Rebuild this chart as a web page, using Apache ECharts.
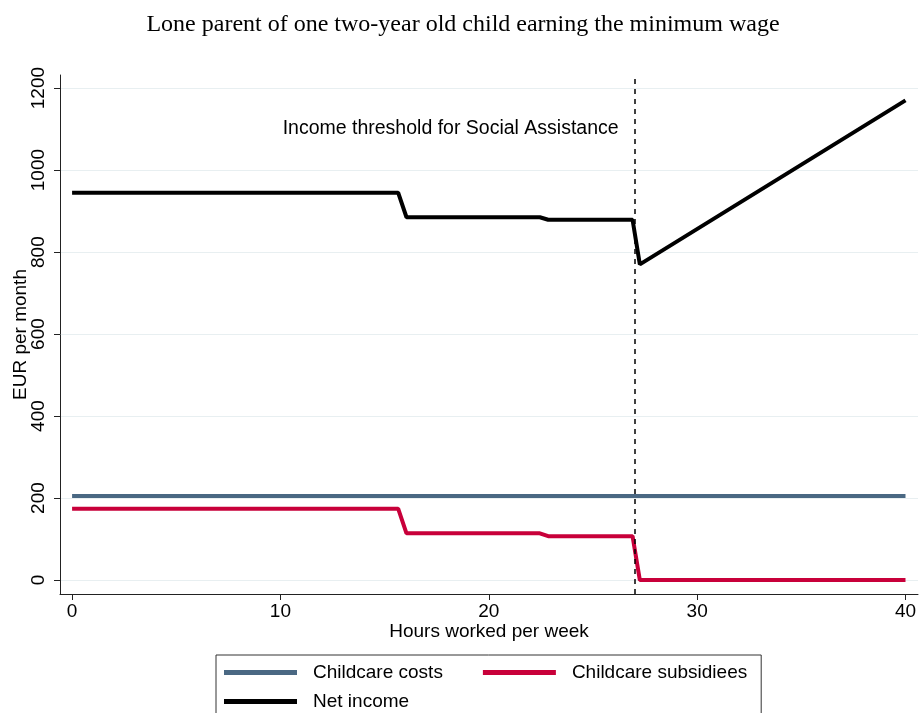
<!DOCTYPE html>
<html>
<head>
<meta charset="utf-8">
<script src="https://cdn.jsdelivr.net/npm/echarts@6/dist/echarts.min.js"></script>
<style>html,body{margin:0;padding:0;background:#fff;}#c{width:919px;height:713px;}</style>
</head>
<body>
<div id="c"></div>
<script>
var titleText = 'Lone parent of one two-year old child earning the minimum wage';
var xTicks = [0, 10, 20, 30, 40];
var yTicks = [0, 200, 400, 600, 800, 1000, 1200];
var hoursCost = [0, 40];
var childcareCosts = [205, 205];
var hoursSteps = [0, 15.65, 16.05, 22.45, 22.85, 26.9, 27.25, 40];
var childcareSubsidies = [174, 174, 114, 114, 107, 107, 0, 0];
var netIncome = [945, 945, 885, 885, 879, 879, 770, 1170];
var thresholdHours = 27;
var thresholdLabel = 'Income threshold for Social Assistance';
var labelY = 1100;

function pairs(xs, ys) { return xs.map(function (x, i) { return [x, ys[i]]; }); }

var chart = echarts.init(document.getElementById('c'));
var sans = '"Liberation Sans", Arial, sans-serif';
chart.setOption({
  animation: false,
  backgroundColor: '#fff',
  title: {
    text: titleText, left: 458, top: 8, textAlign: 'center',
    textStyle: { fontFamily: '"Liberation Serif", "Times New Roman", serif', fontSize: 24, fontWeight: 'normal', color: '#000' }
  },
  grid: { left: 60, top: 75, right: 1, bottom: 119, containLabel: false, outerBoundsMode: 'none' },
  xAxis: {
    type: 'value', min: -0.58, max: 40.6,
    name: 'Hours worked per week', nameLocation: 'middle', nameGap: 28, nameMoveOverlap: false,
    nameTextStyle: { fontFamily: sans, fontSize: 19, color: '#000', verticalAlign: 'top' },
    axisLine: { show: true, onZero: false, lineStyle: { color: '#222', width: 1 } },
    axisTick: { show: true, length: 6, lineStyle: { color: '#222' }, customValues: xTicks },
    axisLabel: { customValues: xTicks, fontFamily: sans, fontSize: 19, color: '#000', margin: 8 },
    splitLine: { show: false }
  },
  yAxis: {
    type: 'value', min: -34, max: 1232,
    name: 'EUR per month', nameLocation: 'middle', nameGap: 30, nameRotate: 90, nameMoveOverlap: false,
    nameTextStyle: { fontFamily: sans, fontSize: 19, color: '#000' },
    axisLine: { show: true, onZero: false, lineStyle: { color: '#222', width: 1 } },
    axisTick: { show: true, length: 6, lineStyle: { color: '#222' }, customValues: yTicks },
    axisLabel: { customValues: yTicks, rotate: 90, fontFamily: sans, fontSize: 19, color: '#000', margin: 12,
      formatter: function (v) { return String(v); } },
    splitLine: { show: true, lineStyle: { color: '#e8eff1', width: 1 } }
  },
  legend: {
    left: 216, top: 655, width: 540,
    orient: 'horizontal',
    itemWidth: 73, itemHeight: 5, itemGap: 6,
    padding: [6, 14, 30, 8],
    borderColor: '#333', borderWidth: 1,
    icon: 'rect',
    textStyle: { fontFamily: sans, fontSize: 19, color: '#000', lineHeight: 23, padding: [0, 0, 0, 11] },
    data: [
      { name: 'Childcare costs', textStyle: { padding: [0, 34, 0, 11] } },
      { name: 'Childcare subsidiees' },
      { name: 'Net income' }
    ]
  },
  series: [
    {
      name: 'Childcare costs', type: 'line', data: pairs(hoursCost, childcareCosts),
      symbol: 'none', color: '#4a6883', lineStyle: { width: 4, color: '#4a6883' }, z: 3
    },
    {
      name: 'Childcare subsidiees', type: 'line', data: pairs(hoursSteps, childcareSubsidies),
      symbol: 'none', color: '#c8003a', lineStyle: { width: 4, color: '#c8003a' }, z: 3
    },
    {
      name: 'Net income', type: 'line', data: pairs(hoursSteps, netIncome),
      symbol: 'none', color: '#000', lineStyle: { width: 4, color: '#000' }, z: 3,
      markLine: {
        silent: true, symbol: 'none', animation: false,
        lineStyle: { type: [5, 5], color: '#000', width: 1.5 },
        label: { show: false },
        data: [{ xAxis: thresholdHours }]
      },
      markPoint: {
        silent: true, symbol: 'circle', symbolSize: 0,
        label: { show: true, position: 'left', distance: 16, formatter: thresholdLabel, fontFamily: sans, fontSize: 19.5, color: '#000' },
        data: [{ coord: [thresholdHours, labelY] }]
      }
    }
  ]
});
</script>
</body>
</html>
